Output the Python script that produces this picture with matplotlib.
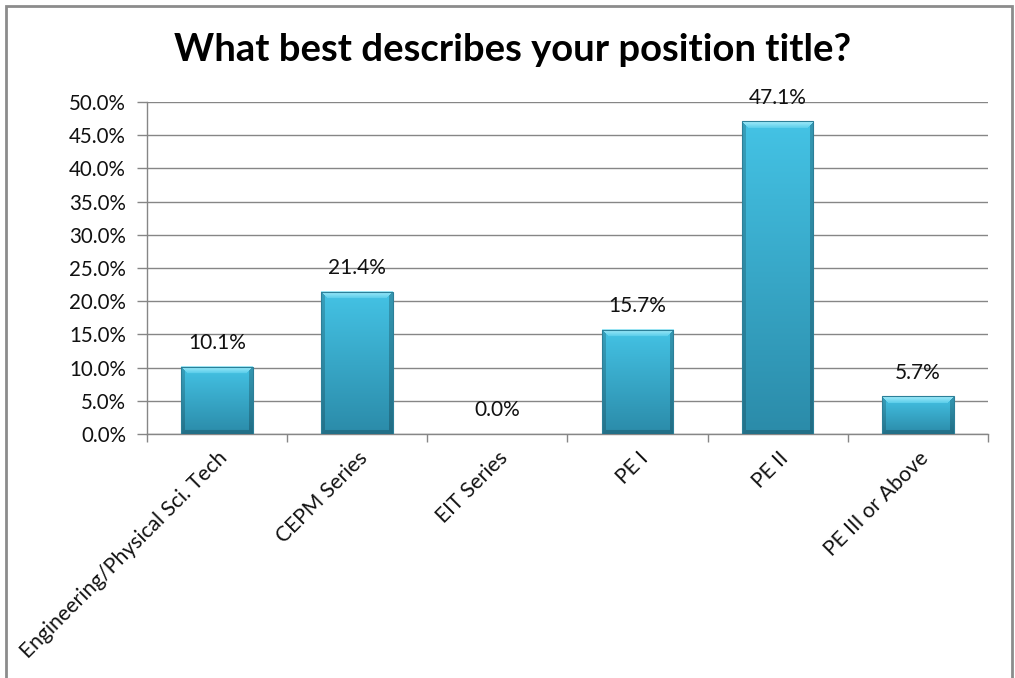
import numpy as np
import matplotlib
matplotlib.use("Agg")
import matplotlib.pyplot as plt
from matplotlib.patches import Rectangle
from matplotlib.colors import to_rgb

categories = ["Engineering/Physical Sci. Tech", "CEPM Series", "EIT Series",
              "PE I", "PE II", "PE III or Above"]
values = [10.1, 21.4, 0.0, 15.7, 47.1, 5.7]
yticks = [0, 5, 10, 15, 20, 25, 30, 35, 40, 45, 50]

plt.rcParams['font.family'] = ['Lato', 'DejaVu Sans']

fig = plt.figure(figsize=(10.15, 6.78), dpi=100)
ax = fig.add_axes([0.1448, 0.3599, 0.8286, 0.4897])

x = np.arange(len(categories))
bar_w = 0.51
bars = ax.bar(x, values, width=bar_w, color='none', edgecolor='none', zorder=3)


def mix(c1, c2, t):
    a = np.array(to_rgb(c1))
    b = np.array(to_rgb(c2))
    return a + (b - a) * t


# bevelled gradient fill for each bar, sized in pixels
px_x = 140.3
px_y = 6.64
for b, v in zip(bars, values):
    if v <= 0:
        continue
    w = int(round(bar_w * px_x))
    h = max(int(round(v * px_y)), 2)
    img = np.zeros((h, w, 3))
    for r in range(h):
        img[r, :] = mix('#44C3E5', '#2B8BA9', r / max(h - 1, 1))
    side = 4
    top = 7
    for r in range(h):
        for c in range(w):
            d_top = r
            d_left = c
            d_right = w - 1 - c
            d_bot = h - 1 - r
            if d_top < top and d_top <= d_left and d_top <= d_right:
                img[r, c] = mix('#A2EBFA', '#55CBE9', d_top / top)
            elif d_left < side and d_left <= d_bot:
                img[r, c] = img[r, c] * 0.82
            elif d_right < side and d_right <= d_bot:
                img[r, c] = img[r, c] * 0.78
            elif d_bot < 4:
                img[r, c] = img[r, c] * 0.8
    x0 = b.get_x()
    ax.imshow(img, extent=(x0, x0 + bar_w, 0, v), aspect='auto',
              origin='upper', zorder=3, interpolation='bilinear')
    ax.add_patch(Rectangle((x0, 0), bar_w, v, fill=False,
                           edgecolor='#2C7F98', linewidth=0.8, zorder=4))

for xi, v in zip(x, values):
    ax.annotate(f"{v:.1f}%", (xi, v), xytext=(0, 17), textcoords='offset points',
                ha='center', va='center', fontsize=15, color='#111111')

ax.set_xlim(-0.5, len(categories) - 0.5)
ax.set_ylim(0, 50)
ax.set_yticks(yticks)
ax.set_yticklabels([f"{t:.1f}%" for t in yticks], fontsize=14.8, color='#111111')
ax.yaxis.grid(True, color='#868686', linewidth=1.0, zorder=0)
ax.set_axisbelow(True)

ax.set_xticks(x)
ax.set_xticklabels(categories, rotation=45, ha='right', rotation_mode='anchor',
                   fontsize=15.2, color='#111111')
ax.tick_params(axis='x', length=0, pad=10)
ax.set_xticks(np.arange(len(categories) + 1) - 0.5, minor=True)
ax.tick_params(axis='x', which='minor', length=6, color='#868686', width=1)
ax.tick_params(axis='y', length=7, color='#868686', width=1, pad=8)

for s in ['top', 'right']:
    ax.spines[s].set_visible(False)
for s in ['left', 'bottom']:
    ax.spines[s].set_color('#868686')
    ax.spines[s].set_linewidth(1)

fig.text(0.5045, 0.926, "What best describes your position title?",
         ha='center', va='center', fontsize=27.5, fontweight='bold', color='black')

# outer chart frame
fig.patches.append(Rectangle((6 / 1015, -0.02), 1006 / 1015, 1.02 - 6 / 678,
                             transform=fig.transFigure, fill=False,
                             edgecolor='#8C8C8C', linewidth=2, clip_on=False))

fig.savefig("out.png", dpi=100)
